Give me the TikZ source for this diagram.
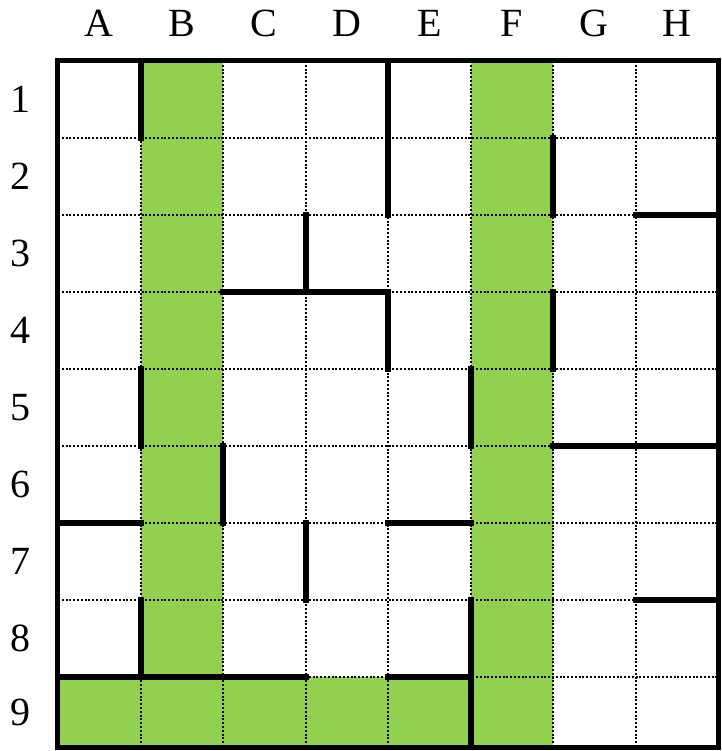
\documentclass[tikz,border=0pt]{standalone}
\usepackage{fontspec}
\setmainfont{Liberation Serif}
\usetikzlibrary{positioning}
\definecolor{cellgreen}{RGB}{146,208,80}

\begin{document}
\begin{tikzpicture}[x=82.5pt, y=-77pt,
    gridline/.style={line width=2pt, dash pattern=on 2pt off 1.8pt},
    wall/.style={line width=6pt, line cap=rect},
    lbl/.style={font=\fontsize{40}{44}\selectfont}]
                \useasboundingbox (-0.703,-0.792) rectangle (8.048,8.961);
                \fill[cellgreen] (1,0) rectangle (2,8);
                \fill[cellgreen] (5,0) rectangle (6,8.92);
                \fill[cellgreen] (0,8) rectangle (5,8.92);
                \foreach \x in {1,...,7} \draw[gridline] (\x,0) -- (\x,8.92);
                \foreach \y in {1,...,8} \draw[gridline] (0,\y) -- (8,\y);
                \draw[wall] (1,0) -- (1,1);
                \draw[wall] (4,0) -- (4,2);
                \draw[wall] (6,1) -- (6,2);
                \draw[wall] (7,2) -- (8,2);
                \draw[wall] (3,2) -- (3,3);
                \draw[wall] (2,3) -- (4,3) -- (4,4);
                \draw[wall] (6,3) -- (6,4);
                \draw[wall] (1,4) -- (1,5);
                \draw[wall] (5,4) -- (5,5);
                \draw[wall] (6,5) -- (8,5);
                \draw[wall] (2,5) -- (2,6);
                \draw[wall] (0,6) -- (1,6);
                \draw[wall] (4,6) -- (5,6);
                \draw[wall] (3,6) -- (3,7);
                \draw[wall] (7,7) -- (8,7);
                \draw[wall] (1,7) -- (1,8);
                \draw[wall] (0,8) -- (3,8);
                \draw[wall] (4,8) -- (5,8);
                \draw[wall, line cap=butt] (5,6.96) -- (5,8.92);
                \draw[line width=5pt] (0,0) rectangle (8,8.92);
                \foreach \c [count=\i] in {A,...,H}
                    \node[lbl] (col\c) at (\i-0.5,-0.49) {\c};
                \foreach \r in {1,...,8}
                    \node[lbl] (row\r) at (-0.46,\r-0.5) {\r};
                \node[lbl] (row9) at (-0.46,8.46) {9};
            \end{tikzpicture}
\end{document}
